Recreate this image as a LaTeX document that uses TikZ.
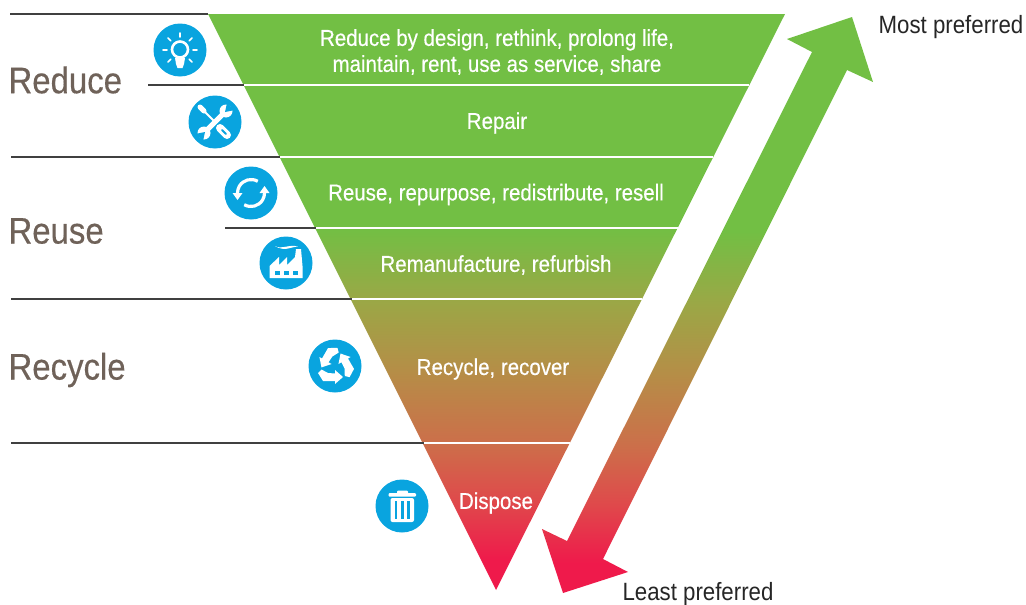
\documentclass[tikz,border=0pt]{standalone}
\usepackage{fontspec}
\setmainfont[FakeStretch=0.89]{Liberation Sans}
\newfontfamily\midfont[FakeStretch=0.89,FakeBold=0.4]{Liberation Sans}
\usetikzlibrary{positioning}
\definecolor{leafgreen}{HTML}{72BF44}
\definecolor{hotred}{HTML}{EF1A4B}
\definecolor{badgeblue}{HTML}{09A4DF}
\definecolor{stonegrey}{HTML}{6F6259}
\definecolor{fadeA}{HTML}{9AA846}
\definecolor{fadeB}{HTML}{B58E47}
\definecolor{fadeC}{HTML}{CC6F4A}
\definecolor{fadeD}{HTML}{DF4A4B}
\pgfdeclareverticalshading{wastefade}{100bp}{color(0bp)=(hotred); color(27.6bp)=(hotred); color(32.8bp)=(fadeD); color(37.76bp)=(fadeC); color(44.1bp)=(fadeB); color(50.26bp)=(fadeA); color(56.4bp)=(leafgreen); color(100bp)=(leafgreen)}
\tikzstyle{tier} = [text=white, font=\midfont\fontsize{23}{26}\selectfont, align=center]
\tikzstyle{group} = [text=stonegrey, font=\midfont\fontsize{37}{40}\selectfont, anchor=west]
\tikzstyle{pref} = [text=black!85, font=\fontsize{25}{28}\selectfont]
\tikzstyle{badge} = [circle, fill=badgeblue, minimum size=53, inner sep=0]
\tikzset{rule/.style = {draw=black!75, line width=1.2},
  gap/.style = {draw=white, line width=2.4},
  glyph/.style = {draw=white, fill=none, line width=2.6, line cap=round, line join=round}
}

\begin{document}
\begin{tikzpicture}[x=1pt,y=-1pt]
  \useasboundingbox (0,0) rectangle (1026,605);
  % funnel and arrow
  \shade[shading=wastefade] (208,14) -- (785,14) -- (496,590) -- cycle;
  \shade[shading=wastefade] (852,17) -- (873,82) -- (847,70) -- (603,559) -- (628,572) -- (563,593) -- (542,529) -- (567,541) -- (812,52) -- (787,39) -- cycle;

  % corners on the funnel
  \coordinate (c0) at (208,14);
  \coordinate (c1) at (244,85);
  \coordinate (d1) at (749,85);
  \coordinate (c2) at (280,157);
  \coordinate (d2) at (713,157);
  \coordinate (c3) at (316,228);
  \coordinate (d3) at (678,228);
  \coordinate (c4) at (352,299);
  \coordinate (d4) at (642,299);
  \coordinate (c5) at (424,443);
  \coordinate (d5) at (570,443);

  %white gaps
  \foreach \i in {1,...,5}
    \draw[gap] (c\i) -- (d\i);

  %rules
  \coordinate (r0) at (10,14);
  \coordinate (r1) at (148,85);
  \coordinate (r2) at (11,157);
  \coordinate (r3) at (225,228);
  \coordinate (r4) at (11,299);
  \coordinate (r5) at (11,443);
  \foreach \i in {0,...,5}
    \draw[rule] (r\i) -- (c\i);

  % labels
  \node[tier] (t1) at (497,52) {Reduce by design, rethink, prolong life,\\maintain, rent, use as service, share};
  \node[tier] (t2) at (497,123) {Repair};
  \node[tier] (t3) at (496,194.5) {Reuse, repurpose, redistribute, resell};
  \node[tier] (t4) at (496,265) {Remanufacture, refurbish};
  \node[tier] (t5) at (493,369) {Recycle, recover};
  \node[tier] (t6) at (496,503) {Dispose};

  \node[group] (g1) at (5,80) {Reduce};
  \node[group] (g2) at (5,231) {Reuse};
  \node[group] (g3) at (5,370) {Recycle};

  \node[pref] (most) at (951,27) {Most preferred};
  \node[pref] (least) at (698,594) {Least preferred};

  % icons
  \node[badge] (b1) at (180,50) {};
  \node[badge] (b2) at (215,122) {};
  \node[badge] (b3) at (251,193) {};
  \node[badge] (b4) at (286,263) {};
  \node[badge] (b5) at (335,366) {};
  \node[badge] (b6) at (402,506) {};

  % bulb
  \begin{scope}[shift={(b1)}]
    \draw[glyph] (0,-0.5) circle (8);
    \fill[white] (-5,8) -- (5,8) -- (4,14) -- (2.5,18) -- (-2.5,18) -- (-4,14) -- cycle;
    \foreach \a in {0,45,90,135,180,-45,-135}
      \draw[glyph, line width=1.6, rotate=\a] (13,0) -- (17,0);
  \end{scope}

  % wrench and screwdriver
  \begin{scope}[shift={(b2)}]
    \draw[glyph, line width=2] (-14,-14) -- (0,0);
    \draw[glyph, line width=5] (-15,-15) -- (-11,-11);
    \draw[glyph, line width=8] (5,6) -- (12,13);
    \draw[draw=badgeblue, line width=1.8, line cap=round] (7,8) -- (11,12);
    \draw[glyph, line width=5] (-10,10) -- (10,-10);
    \fill[white] (11,-11) circle (6.5);
    \fill[white] (-11,11) circle (6.5);
    \fill[badgeblue] (10,-10) -- (12,-19) -- (20,-12) -- cycle;
    \fill[badgeblue] (-10,10) -- (-12,19) -- (-20,12) -- cycle;
  \end{scope}

  % two arrows in a ring
  \begin{scope}[shift={(b3)}]
    \draw[glyph, line cap=butt, line width=3.2] (-60:13.5) arc[start angle=-60, end angle=-180, radius=13.5];
    \draw[glyph, line cap=butt, line width=3.2] (120:13.5) arc[start angle=120, end angle=0, radius=13.5];
    \fill[white] (-18.5,0) -- (-8.5,0) -- (-13.5,7) -- cycle;
    \fill[white] (18.5,0) -- (8.5,0) -- (13.5,-7) -- cycle;
  \end{scope}

  % factory
  \begin{scope}[shift={(b4)}]
    \fill[white] (-16.5,15) -- (-16.5,3) -- (-7,-6) -- (-7,2) -- (1,-6) -- (1,2) -- (9,-6) -- (10,-14) -- (15,-14) -- (16.5,3) -- (16.5,15) -- cycle;
    \foreach \x in {-9,0,9}
      \fill[badgeblue] (\x-2.5,8) rectangle (\x+2.5,11.5);
    \fill[white] (-11,-17) .. controls (-4,-13) and (2,-19) .. (12,-16.5) .. controls (4,-16) and (-1,-11) .. (-11,-17) -- cycle;
  \end{scope}

  % recycle
  \begin{scope}[shift={(b5)}]
    \foreach \a in {0,120,240}
      \fill[white, rotate=\a] (0,15) -- (-12,15) -- (-17,7) -- (-13.5,3.5) -- (-7,7) -- (0,7.5) -- (0,4) -- (8,11) -- (0,18) -- cycle;
  \end{scope}

  % bin
  \begin{scope}[shift={(b6)}]
    \fill[white, rounded corners=1] (-13.5,-13) rectangle (14,-9.5);
    \fill[white, rounded corners=1] (-5,-15.5) rectangle (6,-12);
    \fill[white, rounded corners=2] (-11.5,-8) rectangle (12,16);
    \foreach \x in {-6,0.2,6.4}
      \fill[badgeblue] (\x-1.4,-5) rectangle (\x+1.4,12.5);
  \end{scope}
\end{tikzpicture}
\end{document}
